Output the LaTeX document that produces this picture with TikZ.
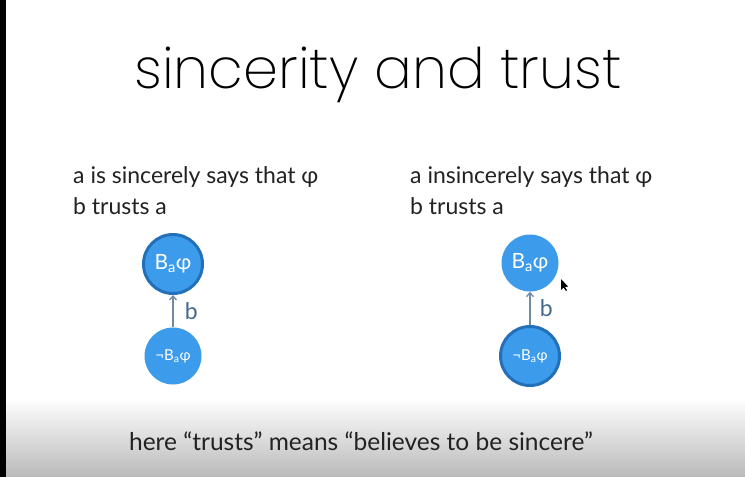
\documentclass[tikz,border=0pt]{standalone}
\usepackage{fontspec}
\setmainfont{Lato}
\newfontfamily\titlefont{Poppins ExtraLight}
\usetikzlibrary{arrows.meta}
\definecolor{stateblue}{HTML}{3C9BEB}
\definecolor{staterim}{HTML}{2470B8}
\definecolor{edgegray}{HTML}{6E8BA6}
\definecolor{labelblue}{HTML}{45698E}
\definecolor{inkgray}{HTML}{222222}
\tikzset{
  state/.style={circle, fill=stateblue, minimum size=57pt, inner sep=0pt, text=white, font=\fontsize{21}{23}\selectfont},
  negstate/.style={state, font=\fontsize{15}{17}\selectfont},
  actual/.style={draw=staterim, line width=3pt, minimum size=59pt},
  trust/.style={draw=edgegray, line width=1.3pt, -{Straight Barb[length=4pt,width=7pt]}},
  edgelabel/.style={text=labelblue, font=\fontsize{23}{25}\selectfont},
  body/.style={text=inkgray, font=\fontsize{23}{28}\selectfont, anchor=base west, inner sep=0pt},
}
\begin{document}
\begin{tikzpicture}[x=1pt, y=-1pt]
  % page and the shaded footer band
  \fill[white] (0,0) rectangle (745,477);
  \shade[top color=white, bottom color=black!27] (0,398) rectangle (745,477);
  \fill[black] (0,0) rectangle (6,477);
  \useasboundingbox (0,0) rectangle (745,477);

  % title
  \node[anchor=base, inner sep=0pt, font=\titlefont\fontsize{56}{59}\selectfont] (title) at (378,88) {sincerity and trust};

  % left case: sincere statement
  \node[body] (lt1) at (73,183) {a is sincerely says that φ};
  \node[body] (lt2) at (73,214) {b trusts a};
  \node[state, actual] (lB) at (173,264) {B\textsubscript{a}φ};
  \node[negstate] (lN) at (173,356) {¬B\textsubscript{a}φ};
  \draw[trust] (lN) -- (lB) node[midway, right=8pt, edgelabel] (lb) {b};

  % right case: insincere statement
  \node[state] (rB) at (530,263) {B\textsubscript{a}φ};
  \node[body] (rt1) at (410,183) {a insincerely says that φ};
  \node[body] (rt2) at (410,214) {b trusts a};
  \node[negstate, actual] (rN) at (530,356) {¬B\textsubscript{a}φ};
  \draw[trust] (rN) -- (rB) node[midway, right=6pt, edgelabel] (rb) {b};

  % mouse pointer
  \fill[black] (561,279) -- (561,290) -- (563.5,287.5) -- (566,291) -- (567,290.3) -- (565,287) -- (568,286.5) -- cycle;

  % footer remark
  \node[anchor=base, inner sep=0pt, text=inkgray, font=\fontsize{24.5}{28}\selectfont] (note) at (361,450) {here “trusts” means “believes to be sincere”};
\end{tikzpicture}
\end{document}
